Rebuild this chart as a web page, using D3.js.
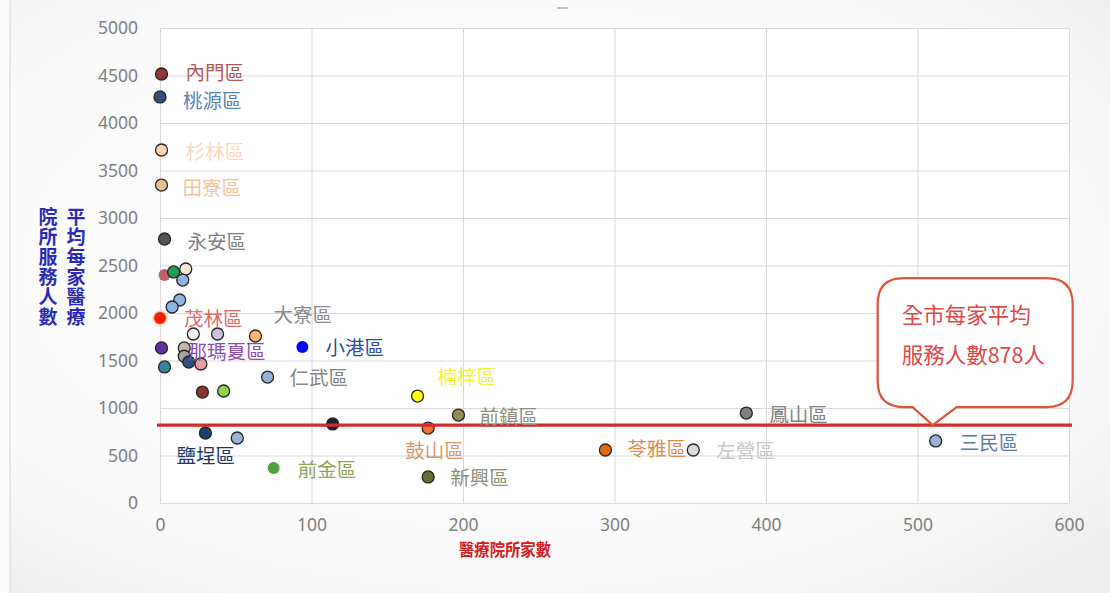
<!DOCTYPE html>
<html><head><meta charset="utf-8">
<script src="https://cdn.jsdelivr.net/npm/d3@7"></script>
<style>
html,body{margin:0;padding:0;background:#fff;}
svg{display:block;}
</style></head>
<body>
<svg id="chart" width="1110" height="593"></svg>
<script>
// ---- data ----
const districts = ["內門區","桃源區","杉林區","田寮區","永安區","","","","","","","茂林區","","","大寮區","那瑪夏區","","","","","仁武區","","","小港區","","鹽埕區","","前金區","楠梓區","前鎮區","鼓山區","新興區","苓雅區","左營區","鳳山區","三民區",""];
const clinics    = [1,0,1,1,3,3,9,17,15,13,8,0,22,38,63,1,16,19,27,3,71,28,42,94,114,30,51,75,170,197,177,177,294,352,387,512,16];
const perClinic  = [4516,4274,3716,3347,2779,2400,2432,2463,2347,2137,2063,1947,1779,1779,1758,1632,1632,1484,1463,1432,1326,1168,1179,1642,832,737,684,368,1126,926,789,274,558,558,947,653,1545];
const xTicks = [0,100,200,300,400,500,600];
const yTicks = [0,500,1000,1500,2000,2500,3000,3500,4000,4500,5000];
const avgLineValue = 820;     // where the red line sits in the picture
const calloutLines = ["全市每家平均","服務人數878人"];
const calloutAnchorX = 510;
const xTitle = "醫療院所家數";
const yTitleCols = ["平均每家醫療","院所服務人數"];

// ---- styles ----
const pointColors = ["#943634","#2F4F75","#FBD5B5","#E6C28E","#555555","#C0606A","#1E9E50","#FDE9D3","#8EB4E3","#8EB4E3","#8EB4E3","#FF1A00","#F2F2F2","#CCC0DA","#FAB877","#6030A0","#C4B8A8","#2F4F80","#E6A0A0","#31849B","#95B3D7","#8B3333","#92D050","#0000FF","#1A1F3A","#1F3F70","#95B3D7","#4EA040","#FFFF00","#948A54","#F07030","#5F7038","#E36C0A","#D9D9D9","#7F7F7F","#95B3D7","#A6A6A6"];
const noBorder = new Set([5,11,23,27]);
const drawOrder = [0,1,2,3,4,5,6,7,8,9,10,11,12,13,14,15,16,36,17,18,19,20,21,22,23,24,25,26,27,28,29,30,31,32,33,34,35];
const labelStyle = {
  "內門區":[24,-1,"#B05A58"],"桃源區":[23,4,"#5A84B4"],"杉林區":[24,2,"#F8D9BC"],"田寮區":[21,3,"#EFC69E"],
  "永安區":[23,3,"#808080"],"茂林區":[24,1,"#E06868"],"大寮區":[18,-21,"#8A8A8A"],"那瑪夏區":[26,4,"#8C4CB0"],
  "小港區":[23,1,"#2E4C9C"],"仁武區":[22,1,"#858585"],"楠梓區":[20,-19,"#F2F23A"],"前鎮區":[21,2,"#8F8F78"],
  "鳳山區":[23,2,"#808080"],"鼓山區":[-23,23,"#D39A6C"],"苓雅區":[22,-1,"#D98E4C"],"左營區":[23,1,"#C8C8C8"],
  "三民區":[24,2,"#5A7BAA"],"鹽埕區":[-29,23,"#1F3864"],"前金區":[24,2,"#93A256"],"新興區":[22,1,"#8A9070"]
};

const W = 1110, H = 593;
const m = {left:160, right:1069, top:28, bottom:503};
const svg = d3.select("#chart");

// background
const defs = svg.append("defs");
const rg = defs.append("radialGradient").attr("id","bg").attr("cx","45%").attr("cy","45%").attr("r","75%");
rg.append("stop").attr("offset","0%").attr("stop-color","#ffffff");
rg.append("stop").attr("offset","70%").attr("stop-color","#fafafa");
rg.append("stop").attr("offset","100%").attr("stop-color","#ececec");
svg.append("rect").attr("width",W).attr("height",H).attr("fill","#fbfbfb");
svg.append("rect").attr("x",10).attr("y",-2).attr("width",W).attr("height",H+4).attr("fill","url(#bg)").attr("stroke","#d8d8d8");
svg.append("rect").attr("x",m.left).attr("y",m.top).attr("width",m.right-m.left).attr("height",m.bottom-m.top).attr("fill","#fff");
svg.append("line").attr("x1",557).attr("x2",568).attr("y1",8).attr("y2",8).attr("stroke","#999").attr("stroke-width",1.2);

const x = d3.scaleLinear().domain([0,600]).range([m.left,m.right]);
const y = d3.scaleLinear().domain([0,5000]).range([m.bottom,m.top]);

// grid
const xAxis = d3.axisBottom(x).tickValues(xTicks).tickSize(-(m.bottom-m.top)).tickPadding(12).tickFormat(d3.format("d"));
const yAxis = d3.axisLeft(y).tickValues(yTicks).tickSize(-(m.right-m.left)).tickPadding(22).tickFormat(d3.format("d"));
const gx = svg.append("g").attr("transform",`translate(0,${m.bottom})`).call(xAxis);
const gy = svg.append("g").attr("transform",`translate(${m.left},0)`).call(yAxis);
[gx,gy].forEach(g=>{
  g.select(".domain").remove();
  g.selectAll(".tick line").attr("stroke","#d9d9d9").attr("stroke-width",1);
  g.selectAll(".tick text").attr("fill","#7f7f7f").attr("font-family","'Noto Sans','Open Sans',sans-serif").attr("font-size",17.5);
});
gx.selectAll(".tick text").attr("dy","0.9em");

// points
const pts = svg.append("g");
drawOrder.forEach(i=>{
  if(i===11){
    pts.append("circle").attr("cx",x(clinics[i])).attr("cy",y(perClinic[i])).attr("r",7.5).attr("fill","#FFB080").attr("opacity",0.6);
  }
  pts.append("circle")
    .attr("cx",x(clinics[i])).attr("cy",y(perClinic[i])).attr("r",6)
    .attr("fill",pointColors[i])
    .attr("stroke",noBorder.has(i)?"none":"#262626").attr("stroke-width",1.3);
});

// average line
svg.append("line").attr("x1",x(-2)).attr("x2",x(602)).attr("y1",y(avgLineValue)).attr("y2",y(avgLineValue))
  .attr("stroke","#D42A2A").attr("stroke-width",3.2);

// labels
const lab = svg.append("g").attr("font-family","'Noto Sans CJK TC','Noto Sans CJK SC',sans-serif").attr("font-size",19.5);
districts.forEach((name,i)=>{
  if(!name) return;
  const s = labelStyle[name];
  lab.append("text").attr("x",x(clinics[i])+s[0]).attr("y",y(perClinic[i])+s[1])
    .attr("dy","0.36em").attr("fill",s[2]).text(name);
});

// callout
const tx = x(calloutAnchorX), ty = y(avgLineValue);
const bx0 = tx-55, bx1 = tx+140, by0 = ty-147, by1 = ty-18, r = 26;
const p = d3.path();
p.moveTo(bx0+r,by0);
p.lineTo(bx1-r,by0); p.quadraticCurveTo(bx1,by0,bx1,by0+r);
p.lineTo(bx1,by1-r); p.quadraticCurveTo(bx1,by1,bx1-r,by1);
p.lineTo(tx+24,by1); p.lineTo(tx,ty); p.lineTo(tx-20,by1);
p.lineTo(bx0+r,by1); p.quadraticCurveTo(bx0,by1,bx0,by1-r);
p.lineTo(bx0,by0+r); p.quadraticCurveTo(bx0,by0,bx0+r,by0);
p.closePath();
svg.append("path").attr("d",p.toString()).attr("fill","#fff").attr("stroke","#DE5538").attr("stroke-width",2.2);
calloutLines.forEach((t,k)=>{
  svg.append("text").attr("x",bx0+24).attr("y",by0+37+k*40).attr("dy","0.36em")
    .attr("font-family","'Noto Sans CJK TC',sans-serif").attr("font-size",21.5).attr("fill","#E04848").text(t);
});

// axis titles
svg.append("text").attr("x",505).attr("y",550).attr("dy","0.36em").attr("text-anchor","middle")
  .attr("font-family","'Noto Sans CJK TC',sans-serif").attr("font-weight",700).attr("font-size",17)
  .attr("fill","#D42020").attr("textLength",92).attr("lengthAdjust","spacingAndGlyphs").text(xTitle);
const colX = [76,48];
yTitleCols.forEach((col,c)=>{
  svg.append("text").attr("x",colX[c]).attr("y",207)
    .style("writing-mode","vertical-rl").style("text-orientation","upright")
    .attr("letter-spacing",1)
    .attr("font-family","'Noto Sans CJK TC',sans-serif").attr("font-weight",700).attr("font-size",19)
    .attr("fill","#2B2BB8").text(col);
});
</script>
</body></html>
